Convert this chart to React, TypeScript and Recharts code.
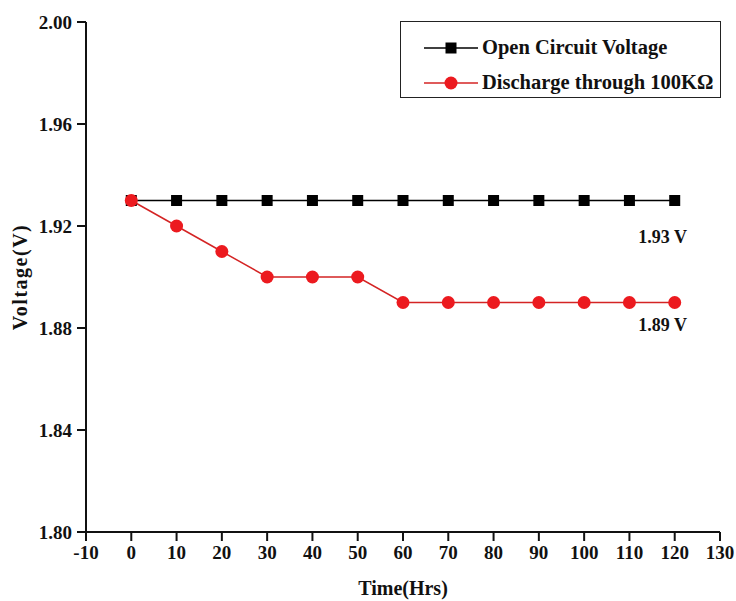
import React from "react";
import { LineChart, Line, XAxis, YAxis, ReferenceDot, Label } from "recharts";

const hours = [0, 10, 20, 30, 40, 50, 60, 70, 80, 90, 100, 110, 120];
const openCircuit = [1.93, 1.93, 1.93, 1.93, 1.93, 1.93, 1.93, 1.93, 1.93, 1.93, 1.93, 1.93, 1.93];
const discharge = [1.93, 1.92, 1.91, 1.9, 1.9, 1.9, 1.89, 1.89, 1.89, 1.89, 1.89, 1.89, 1.89];
const xTicks = [-10, 0, 10, 20, 30, 40, 50, 60, 70, 80, 90, 100, 110, 120, 130];
const yTicks = [1.8, 1.84, 1.88, 1.92, 1.96, 2.0];
const seriesNames = ["Open Circuit Voltage", "Discharge through 100K\u03A9"];
const annotations = [
  { x: 120, y: 1.93, text: "1.93 V" },
  { x: 120, y: 1.89, text: "1.89 V" },
];

const data = hours.map((h, i) => ({ h, oc: openCircuit[i], dc: discharge[i] }));

const FONT = "'Liberation Serif', 'Times New Roman', serif";
const RED = "#ec1a1f";
const RED_LINE = "#d42424";
const LABEL_DY = [42, 28];

const Square = (props: any) => {
  const { cx, cy } = props;
  if (cx == null || cy == null) return null;
  return <rect x={cx - 5.5} y={cy - 5.5} width={11} height={11} fill="#000" />;
};

const Circle = (props: any) => {
  const { cx, cy } = props;
  if (cx == null || cy == null) return null;
  return <circle cx={cx} cy={cy} r={6.5} fill={RED} />;
};

const LegendBox = () => (
  <div
    style={{
      position: "absolute",
      left: 400,
      top: 21,
      border: "1.5px solid #222",
      background: "#fff",
      width: 321,
      height: 77,
      boxSizing: "border-box",
      fontFamily: FONT,
      fontWeight: "bold",
      fontSize: 20.5,
      paddingTop: 8,
    }}
  >
    {[0, 1].map((i) => (
      <div key={i} style={{ display: "flex", alignItems: "center", height: 35 }}>
        <svg width={80} height={20} style={{ marginLeft: 1, flex: "none" }}>
          <line x1={22} y1={10} x2={76} y2={10} stroke={i === 0 ? "#000" : RED_LINE} strokeWidth={1.5} />
          {i === 0 ? (
            <rect x={43.5} y={4.5} width={11} height={11} fill="#000" />
          ) : (
            <circle cx={49} cy={10} r={6.5} fill={RED} />
          )}
        </svg>
        <span style={{ color: "#111", whiteSpace: "nowrap" }}>{seriesNames[i]}</span>
      </div>
    ))}
  </div>
);

const AnnoLabel = (text: string, dy: number) => (props: any) => {
  const { viewBox } = props;
  const x = viewBox.x + (viewBox.width || 0) / 2;
  const y = viewBox.y + (viewBox.height || 0) / 2;
  return (
    <text x={x - 12} y={y + dy} textAnchor="middle" fontFamily={FONT} fontWeight="bold" fontSize={18} fill="#111">
      {text}
    </text>
  );
};

export default function App() {
  const tickStyle = { fontFamily: FONT, fontWeight: "bold", fontSize: 19, fill: "#111" };
  return (
    <div style={{ position: "absolute", left: 0, top: 0, width: 736, height: 601, background: "#fff" }}>
      <LineChart width={736} height={601} data={data} margin={{ top: 22, right: 16, bottom: 0, left: 0 }}>
        <XAxis
          dataKey="h"
          type="number"
          domain={[-10, 130]}
          ticks={xTicks}
          interval={0}
          height={69}
          stroke="#111"
          strokeWidth={2}
          tickSize={9}
          tick={tickStyle}
          tickMargin={5}
        >
          <Label
            value="Time(Hrs)"
            position="insideBottom"
            offset={6}
            style={{ fontFamily: FONT, fontWeight: "bold", fontSize: 20, fill: "#111" }}
          />
        </XAxis>
        <XAxis
          xAxisId="top"
          dataKey="h"
          type="number"
          domain={[-10, 130]}
          orientation="top"
          height={0}
          tick={false}
          tickLine={false}
          stroke="#111"
          strokeWidth={2}
        />
        <YAxis
          type="number"
          domain={[1.8, 2.0]}
          ticks={yTicks}
          interval={0}
          width={86}
          stroke="#111"
          strokeWidth={2}
          tickSize={9}
          tick={tickStyle}
          tickMargin={5}
          tickFormatter={(v: number) => v.toFixed(2)}
        >
          <Label
            value="Voltage(V)"
            angle={-90}
            position="insideLeft"
            offset={20}
            style={{
              fontFamily: FONT,
              fontWeight: "bold",
              fontSize: 20,
              letterSpacing: 1.5,
              fill: "#111",
              textAnchor: "middle",
            }}
          />
        </YAxis>
        <YAxis
          yAxisId="right"
          type="number"
          domain={[1.8, 2.0]}
          orientation="right"
          width={0}
          tick={false}
          tickLine={false}
          stroke="#111"
          strokeWidth={2}
        />
        <Line
          dataKey="oc"
          name={seriesNames[0]}
          stroke="#000"
          strokeWidth={1.5}
          dot={<Square />}
          isAnimationActive={false}
        />
        <Line
          dataKey="dc"
          name={seriesNames[1]}
          stroke={RED_LINE}
          strokeWidth={1.5}
          dot={<Circle />}
          isAnimationActive={false}
        />
        {annotations.map((a, i) => (
          <ReferenceDot
            key={a.text}
            x={a.x}
            y={a.y}
            r={0}
            stroke="none"
            fill="none"
            label={AnnoLabel(a.text, LABEL_DY[i])}
          />
        ))}
      </LineChart>
      <LegendBox />
    </div>
  );
}
